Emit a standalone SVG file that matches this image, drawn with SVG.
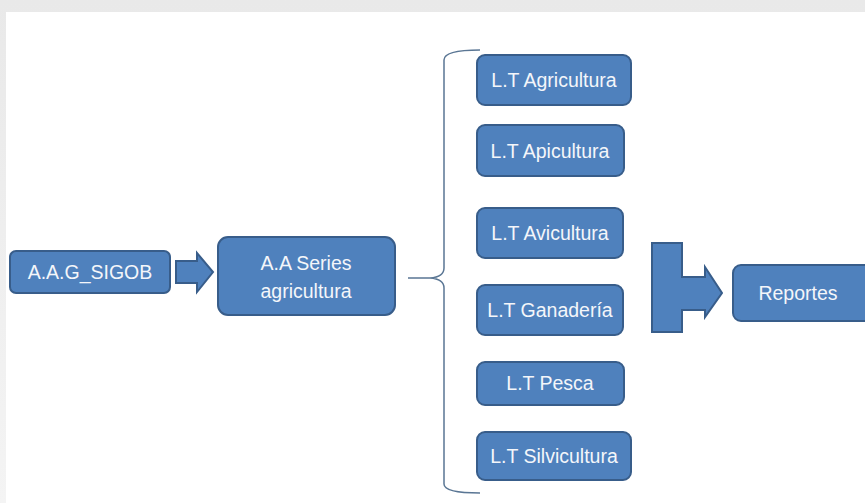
<svg xmlns="http://www.w3.org/2000/svg" width="865" height="503" viewBox="0 0 865 503">
<defs>
<linearGradient id="bgTop" x1="0" y1="0" x2="0" y2="1">
<stop offset="0" stop-color="#e9e9e9"/>
<stop offset="1" stop-color="#f4f4f4"/>
</linearGradient>
<style>
.box{fill:#4f81bd;stroke:#385d8a;stroke-width:2}
.lbl{font-family:"Liberation Sans",Arial,sans-serif;font-size:19.5px;fill:#f4f6fa;text-anchor:middle;dominant-baseline:central}
.brace{fill:none;stroke:#5a7694;stroke-width:1.5}
.arrow{fill:#4f81bd;stroke:#385d8a;stroke-width:2;stroke-linejoin:miter}
</style>
</defs>
<rect x="0" y="0" width="865" height="503" fill="url(#bgTop)"/>
<rect x="6" y="12" width="859" height="491" fill="#ffffff"/>

<g id="connectors">
<path class="arrow" d="M176,261 H197 V253 L213,272 L197,292 V283 H176 Z"/>
<path class="brace" d="M480,50 Q444,50 444,60 V268 Q444,277 430,278 Q418,278 408,278 M430,278 Q444,279 444,288 V484 Q444,493 480,493"/>
<path class="arrow" d="M652,243 H682 V277 H705 V267 L722,293 L705,317 V310 H682 V332 H652 Z"/>
</g>

<g id="n-sigob">
<rect class="box" x="10" y="251" width="160" height="42" rx="6"/>
<text class="lbl" x="90" y="272">A.A.G_SIGOB</text>
</g>
<g id="n-series">
<rect class="box" x="218" y="237" width="177" height="78" rx="10"/>
<text class="lbl" x="306" y="263">A.A Series</text>
<text class="lbl" x="306" y="291">agricultura</text>
</g>
<g id="n-agricultura">
<rect class="box" x="477" y="55" width="154" height="50" rx="8"/>
<text class="lbl" x="554" y="80">L.T Agricultura</text>
</g>
<g id="n-apicultura">
<rect class="box" x="477" y="125" width="147" height="51" rx="8"/>
<text class="lbl" x="550" y="151">L.T Apicultura</text>
</g>
<g id="n-avicultura">
<rect class="box" x="477" y="208" width="146" height="50" rx="8"/>
<text class="lbl" x="550" y="233">L.T Avicultura</text>
</g>
<g id="n-ganaderia">
<rect class="box" x="477" y="285" width="146" height="50" rx="8"/>
<text class="lbl" x="550" y="310">L.T Ganadería</text>
</g>
<g id="n-pesca">
<rect class="box" x="477" y="362" width="147" height="43" rx="8"/>
<text class="lbl" x="550" y="383">L.T Pesca</text>
</g>
<g id="n-silvicultura">
<rect class="box" x="477" y="432" width="154" height="48" rx="8"/>
<text class="lbl" x="554" y="456">L.T Silvicultura</text>
</g>
<g id="n-reportes">
<rect class="box" x="733" y="265" width="142" height="56" rx="8"/>
<text class="lbl" x="798" y="293">Reportes</text>
</g>
</svg>
